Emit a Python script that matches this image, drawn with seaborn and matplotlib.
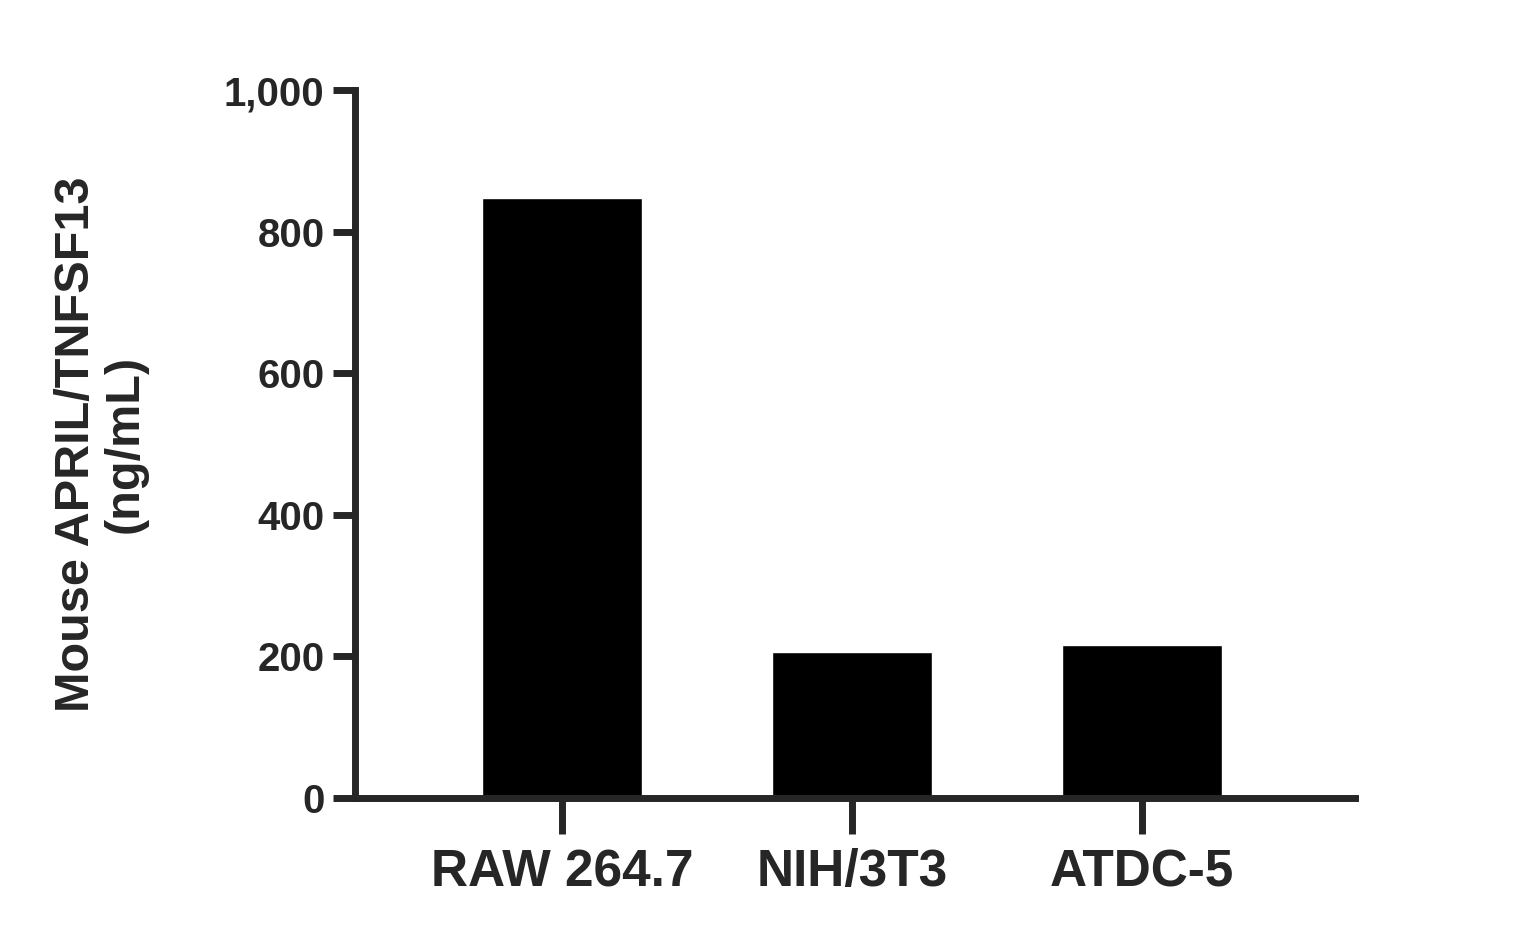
import matplotlib
matplotlib.use("Agg")
import matplotlib.pyplot as plt
import seaborn as sns
import pandas as pd

categories = ["RAW 264.7", "NIH/3T3", "ATDC-5"]
values = [847, 206, 216]
yticks = [0, 200, 400, 600, 800, 1000]
ytick_labels = ["0", "200", "400", "600", "800", "1,000"]

sns.set_style("ticks")
plt.rcParams['font.family'] = ['Liberation Sans', 'DejaVu Sans']
plt.rcParams['font.weight'] = 'bold'

fig = plt.figure(figsize=(15.32, 9.38), dpi=100)
ax = fig.add_axes([355/1532, 1-798/938, 1000/1532, 708/938])
df = pd.DataFrame({"cat": categories, "val": values})
sns.barplot(data=df, x="cat", y="val", color="black", width=0.55, ax=ax, saturation=1)
ax.set_xlim(-0.714, 2.734)
ax.set_ylim(0, 1000)
ax.set_yticks(yticks)
ax.set_yticklabels(ytick_labels, fontsize=29, fontweight='bold')
ax.set_xticks(range(len(categories)))
ax.set_xticklabels(categories, fontsize=37, fontweight='bold')
ax.set_xlabel("")
ax.set_ylabel("Mouse APRIL/TNFSF13\n(ng/mL)", fontsize=35, fontweight='bold', labelpad=55, linespacing=1.1)
for s in ["top", "right"]:
    ax.spines[s].set_visible(False)
for s in ["left", "bottom"]:
    ax.spines[s].set_linewidth(5)
    ax.spines[s].set_capstyle('projecting')
ax.tick_params(axis='y', width=5, length=16, pad=6)
ax.tick_params(axis='x', width=5, length=26, pad=10)
fig.savefig("out.png", dpi=100)
